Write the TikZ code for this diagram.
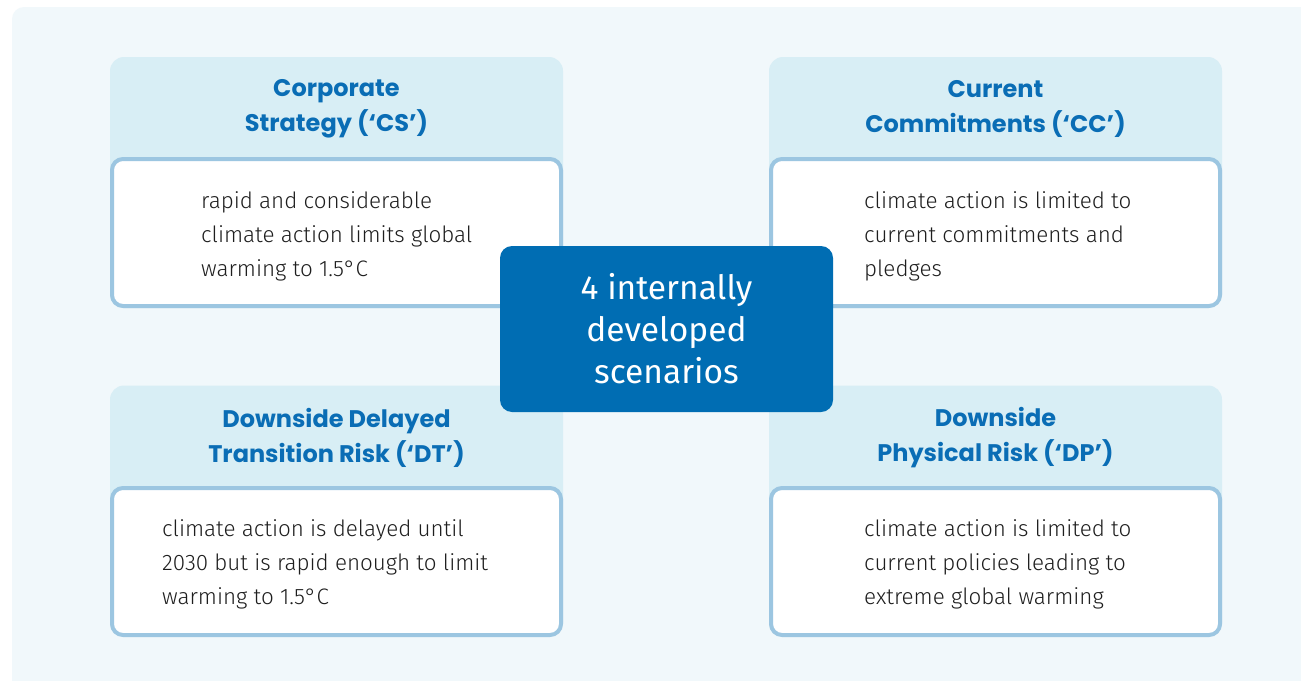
\documentclass[tikz,border=0pt]{standalone}
\usepackage{fontspec}
\setmainfont{Fira Sans}[UprightFont={* Light}]
\newfontfamily\titlefont{Poppins}
\newfontfamily\centerfont{Fira Sans}
\definecolor{panel}{HTML}{F1F8FB}
\definecolor{head}{HTML}{D8EEF5}
\definecolor{rim}{HTML}{9CC6E1}
\definecolor{titleblue}{HTML}{0A6DB5}
\definecolor{centerblue}{HTML}{006DB3}
\definecolor{bodytext}{HTML}{1E1E1E}
\tikzset{
  headcard/.style={fill=head, rounded corners=14pt, minimum width=453pt, minimum height=251pt, inner sep=0pt, draw=none},
  bodycard/.style={fill=white, draw=rim, line width=4pt, rounded corners=11pt, minimum width=449pt, minimum height=147pt, inner sep=0pt},
  titletext/.style={text=titleblue, align=center, font=\titlefont\fontsize{24}{35}\selectfont\bfseries, inner sep=0pt},
  bodytxt/.style={text=bodytext, align=left, anchor=west, font=\fontsize{22.4}{34}\selectfont, inner sep=0pt},
  centerbox/.style={fill=centerblue, rounded corners=12pt, minimum width=333pt, minimum height=166pt, inner sep=0pt, text=white, align=center, font=\centerfont\fontsize{33.5}{42}\selectfont}
}
\begin{document}
\begin{tikzpicture}[x=1pt,y=-1pt]
\useasboundingbox (0,0) rectangle (1301,680);
\fill[white] (0,0) rectangle (1301,680);
\fill[panel, rounded corners=12pt] (12,7) rectangle (1330,710);
% cards
\node[headcard] (csh) at (336.5,182.5) {};
\node[bodycard] (csb) at (336.5,232.5) {};
\node[titletext] (cst) at (336.5,109) {Corporate\\Strategy (‘CS’)};
\node[bodytxt] (csx) at (201,236) {rapid and considerable\\climate action limits global\\warming to 1.5°C};

\node[headcard] (cch) at (995.5,182.5) {};
\node[bodycard] (ccb) at (995.5,232.5) {};
\node[titletext] (cct) at (995.5,109) {Current\\Commitments (‘CC’)};
\node[bodytxt] (ccx) at (864,236) {climate action is limited to\\current commitments and\\pledges};

\node[headcard] (dth) at (336.5,511) {};
\node[bodycard] (dtb) at (336.5,561.5) {};
\node[titletext] (dtt) at (336.5,437.5) {Downside Delayed\\Transition Risk (‘DT’)};
\node[bodytxt] (dtx) at (162,564) {climate action is delayed until\\2030 but is rapid enough to limit\\warming to 1.5°C};

\node[headcard] (dph) at (995.5,511) {};
\node[bodycard] (dpb) at (995.5,561.5) {};
\node[titletext] (dpt) at (995.5,437.5) {Downside\\Physical Risk (‘DP’)};
\node[bodytxt] (dpx) at (864,564) {climate action is limited to\\current policies leading to\\extreme global warming};

\node[centerbox] (ctr) at (666.5,329) {4 internally\\developed\\scenarios};
\end{tikzpicture}
\end{document}
